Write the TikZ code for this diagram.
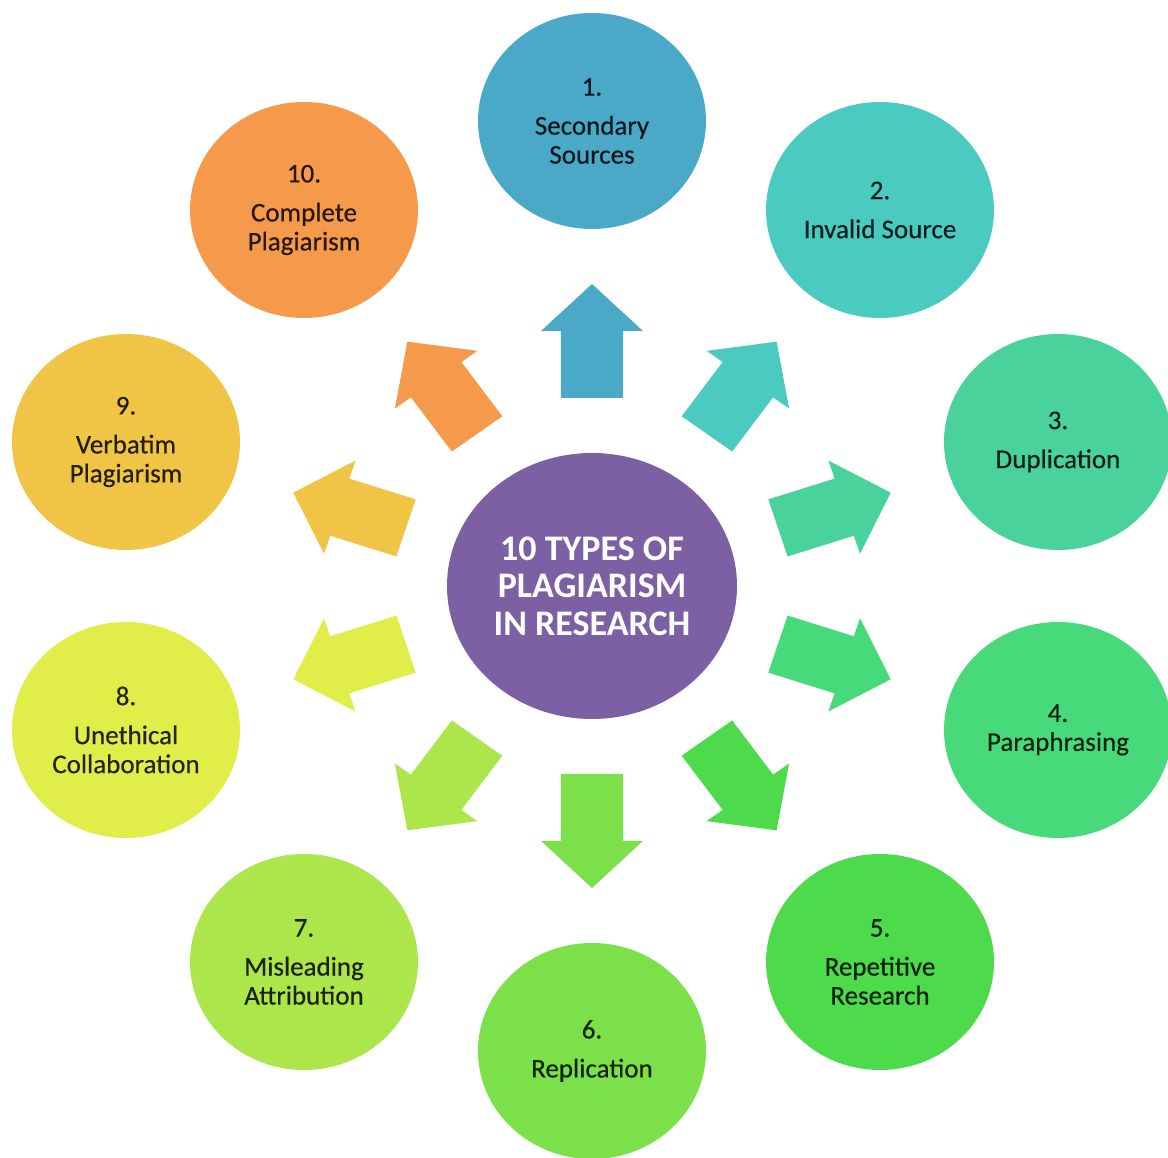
\documentclass[tikz,border=0pt]{standalone}
\usepackage{fontspec}
\setmainfont{Carlito}
\usetikzlibrary{shapes.geometric}
\definecolor{cc}{HTML}{7C60A3}
\definecolor{k1}{HTML}{4BA9C8}
\definecolor{k2}{HTML}{4BCBC0}
\definecolor{k3}{HTML}{49D29C}
\definecolor{k4}{HTML}{48D97B}
\definecolor{k5}{HTML}{4DDA4B}
\definecolor{k6}{HTML}{7BE04A}
\definecolor{k7}{HTML}{ADE64A}
\definecolor{k8}{HTML}{E1EE4A}
\definecolor{k9}{HTML}{F0C445}
\definecolor{k10}{HTML}{F49A4A}
\begin{document}
\begin{tikzpicture}[x=1pt,y=1pt,
  bubble/.style={ellipse, fill=#1, text=#1!15!black, minimum width=228pt, minimum height=216pt,
    inner sep=0pt, align=center, font=\addfontfeature{FakeBold=0.4}\fontsize{27}{29}\selectfont},
  hub/.style={ellipse, fill=cc, text=white, minimum width=290pt, minimum height=266pt,
    inner sep=0pt, align=center, font=\bfseries\fontsize{36}{37.5}\selectfont},
  blockarrow/.style={fill=#1}]
\useasboundingbox (0,0) rectangle (1168,1158);
\fill[white] (0,0) rectangle (1168,1158);

\node[hub] (c0) at (592,572) {10 TYPES OF\\PLAGIARISM\\IN RESEARCH};

\node[bubble=k1]  (c1)  at (592,1037) {1.\\[10pt]Secondary\\Sources};
\node[bubble=k2]  (c2)  at (880,948)  {2.\\[10pt]Invalid Source};
\node[bubble=k3]  (c3)  at (1058,716) {3.\\[10pt]Duplication};
\node[bubble=k4]  (c4)  at (1058,428) {4.\\[0pt]Paraphrasing};
\node[bubble=k5]  (c5)  at (880,196)  {5.\\[10pt]Repetitive\\Research};
\node[bubble=k6]  (c6)  at (592,107)  {6.\\[10pt]Replication};
\node[bubble=k7]  (c7)  at (304,196)  {7.\\[10pt]Misleading\\Attribution};
\node[bubble=k8]  (c8)  at (126,428)  {8.\\[10pt]Unethical\\Collaboration};
\node[bubble=k9]  (c9)  at (126,716)  {9.\\[10pt]Verbatim\\Plagiarism};
\node[bubble=k10] (c10) at (304,948)  {10.\\[10pt]Complete\\Plagiarism};

\foreach \a/\col in {90/k1,54/k2,18/k3,-18/k4,-54/k5,-90/k6,-126/k7,-162/k8,162/k9,126/k10}{
  \fill[blockarrow=\col, shift={(c0.center)}, xscale=1.04, rotate=\a]
    (188,-30) -- (255,-30) -- (255,-49) -- (302,0) -- (255,49) -- (255,30) -- (188,30) -- cycle;
}
\end{tikzpicture}
\end{document}
